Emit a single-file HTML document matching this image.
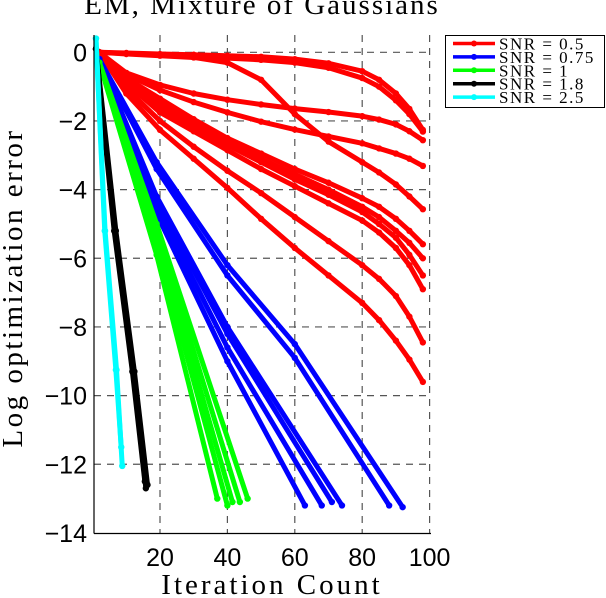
<!DOCTYPE html>
<html><head><meta charset="utf-8"><style>
body{margin:0;background:#fff;width:606px;height:598px;overflow:hidden}
svg{display:block}
</style></head><body>
<svg id="chart" width="606" height="598" xmlns="http://www.w3.org/2000/svg">
<text x="262" y="14" text-anchor="middle" font-family="Liberation Serif, serif" font-size="29" letter-spacing="2">EM, Mixture of Gaussians</text>
<text transform="translate(22,288) rotate(-90)" text-anchor="middle" font-family="Liberation Serif, serif" font-size="29" letter-spacing="2.5">Log optimization error</text>
<text x="272" y="594" text-anchor="middle" font-family="Liberation Serif, serif" font-size="29" letter-spacing="3">Iteration Count</text>
<g id="grid"></g><g id="ticks"></g><g id="series"></g>
<line x1="94" y1="35" x2="94" y2="533.5" stroke="#000" stroke-width="1.2"/>
<line x1="94" y1="533.5" x2="431" y2="533.5" stroke="#000" stroke-width="1.2"/>
<g>
<rect x="445.5" y="35.5" width="159" height="72" fill="#fff" stroke="#000" stroke-width="1"/>
<g id="legend-items"></g>
</g>
</svg>
<script>
const xTicks=[20,40,60,80,100];
const yTicks=[0,-2,-4,-6,-8,-10,-12,-14];
const seriesNames=["SNR = 0.5","SNR = 0.75","SNR = 1","SNR = 1.8","SNR = 2.5"];
const seriesColors=["#ff0000","#0000ff","#00ff00","#000000","#00ffff"];
const redIters=[2,10,20,30,40,50,60,70,80,85,90,94,98];
const redRuns=[
[0,-0.02,-0.05,-0.07,-0.1,-0.13,-0.2,-0.32,-0.55,-0.8,-1.2,-1.65,-2.26],
[0,-0.04,-0.08,-0.12,-0.17,-0.22,-0.3,-0.45,-0.75,-1.0,-1.4,-1.8,-2.31],
[0,-0.05,-0.1,-0.15,-0.3,-0.8,-1.8,-2.6,-3.2,-3.5,-3.85,-4.2,-4.57],
[0,-0.6,-0.95,-1.2,-1.38,-1.52,-1.64,-1.74,-1.86,-1.96,-2.1,-2.3,-2.56],
[0,-0.65,-1.1,-1.45,-1.75,-2.02,-2.25,-2.45,-2.65,-2.8,-2.95,-3.1,-3.31],
[0,-0.75,-1.35,-1.95,-2.5,-2.95,-3.4,-3.8,-4.25,-4.5,-4.85,-5.2,-5.59],
[0,-0.8,-1.45,-2.05,-2.6,-3.1,-3.55,-4.0,-4.5,-4.8,-5.2,-5.55,-6.0],
[0,-0.85,-1.6,-2.15,-2.7,-3.2,-3.7,-4.15,-4.65,-5.0,-5.4,-5.9,-6.5],
[0,-0.9,-1.75,-2.3,-2.85,-3.4,-3.9,-4.4,-4.9,-5.25,-5.7,-6.2,-6.9],
[0,-1.05,-2.0,-2.75,-3.45,-4.1,-4.8,-5.5,-6.2,-6.6,-7.1,-7.7,-8.45],
[0,-1.2,-2.26,-3.1,-3.95,-4.85,-5.7,-6.5,-7.3,-7.8,-8.4,-8.95,-9.6]];
const blueRuns=[
[[2,-0.2],[19,-4.7],[40,-9.0],[63,-13.2]],
[[2,-0.2],[19,-4.5],[40,-8.6],[68,-13.2]],
[[2,-0.2],[19,-4.3],[40,-8.2],[71,-13.1]],
[[2,-0.2],[19,-4.2],[40,-8.0],[74,-13.2]],
[[2,-0.2],[19,-3.4],[40,-6.5],[60,-8.9],[88,-13.2]],
[[2,-0.2],[19,-3.2],[40,-6.2],[60,-8.5],[92,-13.25]]];
const greenRuns=[
[[2,-0.3],[19,-5.9],[37,-13.0]],
[[2,-0.3],[19,-5.6],[40,-13.2]],
[[2,-0.3],[19,-5.4],[41.5,-13.1]],
[[2,-0.3],[19,-5.2],[43.7,-13.1]],
[[2,-0.3],[19,-5.0],[46,-13.0]]];
const blackRuns=[
[[1,0.1],[6.6,-5.2],[12,-9.3],[15.8,-12.7]],
[[1,0.1],[6.9,-5.2],[12.4,-9.3],[16.3,-12.6]],
[[1,0.1],[6.4,-5.2],[11.8,-9.3],[15.5,-12.5]]];
const cyanRuns=[
[[1,0.4],[3.7,-5.2],[7.1,-9.25],[8.8,-12.05]],
[[1,0.4],[3.6,-5.2],[6.9,-9.25],[8.5,-11.5]]];

const NS="http://www.w3.org/2000/svg";
function sx(v){return 92.6+3.37*v;}
function sy(v){return 52.3-34.33*v;}
function mk(tag,attrs,parent){const e=document.createElementNS(NS,tag);for(const k in attrs)e.setAttribute(k,attrs[k]);parent.appendChild(e);return e;}
const grid=document.getElementById('grid'),ticks=document.getElementById('ticks'),ser=document.getElementById('series');
xTicks.forEach(t=>{
  const l=mk('line',{x1:sx(t),x2:sx(t),y1:35,y2:533,stroke:'#555','stroke-width':1.2,'stroke-dasharray':'7,6'},grid);
  
  
  const tx=mk('text',{x:sx(t),y:566,'text-anchor':'middle','font-family':'Liberation Sans, sans-serif','font-size':25},ticks);
  tx.textContent=t;
  
  
});
yTicks.forEach(t=>{
  if(t>-14){
  const l=mk('line',{x1:94,x2:431,y1:sy(t),y2:sy(t),stroke:'#555','stroke-width':1.2,'stroke-dasharray':'7,6'},grid);
  
  }
  const tx=mk('text',{x:87,y:sy(t)+9,'text-anchor':'end','font-family':'Liberation Sans, sans-serif','font-size':25},ticks);
  tx.textContent=t===0?'0':'\u2212'+Math.abs(t);
  
  
});
function drawRun(pts,color,name){
  const g=mk('g',{},ser);
  
  
  mk('polyline',{points:pts.map(p=>sx(p[0])+','+sy(p[1])).join(' '),fill:'none',stroke:color,'stroke-width':5,'stroke-linejoin':'round','stroke-linecap':'round'},g);
  pts.forEach(p=>mk('circle',{cx:sx(p[0]),cy:sy(p[1]),r:3.2,fill:color},g));
}
redRuns.forEach(r=>drawRun(r.map((v,i)=>[redIters[i],v]),seriesColors[0],'snr-0.5-run'));
blueRuns.forEach(r=>drawRun(r,seriesColors[1],'snr-0.75-run'));
greenRuns.forEach(r=>drawRun(r,seriesColors[2],'snr-1-run'));
blackRuns.forEach(r=>drawRun(r,seriesColors[3],'snr-1.8-run'));
cyanRuns.forEach(r=>drawRun(r,seriesColors[4],'snr-2.5-run'));
const li=document.getElementById('legend-items');
seriesNames.forEach((n,i)=>{
  const y=43.5+13.4*i;
  const g=mk('g',{},li);
  
  
  mk('line',{x1:453,x2:495,y1:y,y2:y,stroke:seriesColors[i],'stroke-width':3.5},g);
  mk('circle',{cx:474,cy:y,r:3,fill:seriesColors[i]},g);
  const t=mk('text',{x:499,y:y+6,'font-family':'Liberation Serif, serif','font-size':17,'letter-spacing':'1.5'},g);
  t.textContent=n;
});
</script>
</body></html>
